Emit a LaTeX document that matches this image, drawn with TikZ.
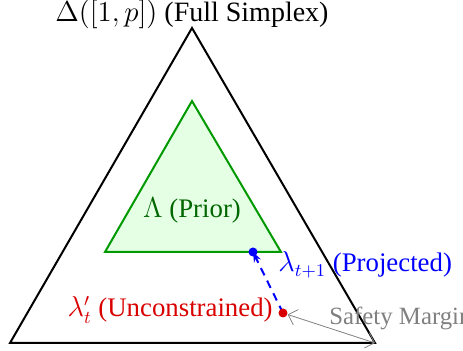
\documentclass[tikz,border=0pt]{standalone}
\usepackage{fontspec}
\setmainfont{Liberation Serif}
\usetikzlibrary{arrows.meta}
\begin{document}
\begin{tikzpicture}[x=0.5pt,y=-0.5pt,
  lbl/.style={font=\fontsize{13.4}{15}\selectfont, inner sep=0pt},
  outer/.style={draw=black, line width=1pt, line join=miter},
  prior/.style={draw=green!60!black, fill=green!10, line width=1pt},
  dot/.style={circle, inner sep=0pt, minimum size=4.5pt},
]
\useasboundingbox (0,0) rectangle (463,351);
% outer simplex
\coordinate (A) at (192,28);
\coordinate (B) at (10,343);
\coordinate (C) at (375,343);
\draw[outer] (A) -- (B) -- (C) -- cycle;
% prior
\coordinate (P1) at (192,101);
\coordinate (P2) at (105,252);
\coordinate (P3) at (281,252);
\draw[prior] (P1) -- (P2) -- (P3) -- cycle;
% labels
\node[lbl, font=\fontsize{14}{16}\selectfont] (title) at (192,14) {$\Delta([1,p])$ (Full Simplex)};
\node[lbl, text=green!40!black] (priorlbl) at (192,211) {$\Lambda$ (Prior)};
% points
\coordinate (projc) at (253,252);
\coordinate (uncc) at (283,313);
\draw[blue, dash pattern=on 4pt off 3pt, line width=1pt, -{Stealth[length=5pt]}] (uncc) -- (projc);
\node[dot, fill=blue] (proj) at (projc) {};
\node[dot, fill=red!85!black] (unc) at (uncc) {};
\node[lbl, text=blue, anchor=west] (projlbl) at (278,265) {$\lambda_{t+1}$ (Projected)};
\node[lbl, text=red!85!black, anchor=east] (unclbl) at (273,310) {$\lambda'_t$ (Unconstrained)};
\draw[gray, line width=0.4pt, {Straight Barb[length=4pt]}-{Straight Barb[length=4pt]}] (unc) -- (C);
\node[lbl, text=gray, anchor=west, font=\fontsize{12.4}{14}\selectfont] (margin) at (329,318) {Safety Margin};
\end{tikzpicture}
\end{document}
